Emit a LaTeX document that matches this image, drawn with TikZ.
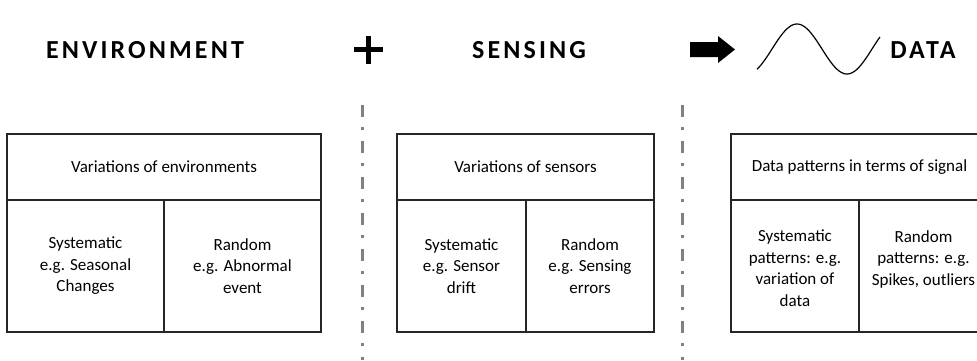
\documentclass[tikz,border=0pt]{standalone}
\usepackage{fontspec}
\setmainfont{Carlito}
\newfontfamily\headfont{Carlito}[LetterSpace=12]
\begin{document}
\begin{tikzpicture}[x=1pt,y=-1pt,
  cellbox/.style={draw=black!85, line width=1.1pt},
  celltext/.style={align=center, inner sep=0pt, font=\fontsize{17}{21.5}\selectfont},
  headtext/.style={anchor=base, inner sep=0pt, font=\headfont\bfseries\fontsize{26}{30}\selectfont},
  sepline/.style={draw=black!50, line width=3pt, dash pattern=on 12pt off 10pt on 2.5pt off 11.5pt}]
\useasboundingbox (0,0) rectangle (977,360);

% headline
\node[headtext] (env) at (145,58) {ENVIRONMENT};
\node[headtext] (sens) at (529,58) {SENSING};
\node[headtext] (data) at (923,58) {DATA};
% plus sign
\fill (366,36) rectangle (371,64);
\fill (354,47) rectangle (383,52);
% block arrow
\fill (690,42) -- (718,42) -- (718,36) -- (735,49.5) -- (718,63) -- (718,57) -- (690,57) -- cycle;
% signal wave
\draw[line width=1.2pt, domain=757:880, samples=80, smooth]
  plot (\x, {49-25*sin(3.6*(\x-772))});

% separators
\draw[sepline] (362,105) -- (362,360);
\draw[sepline] (682,105) -- (682,360);

% environment table
\draw[cellbox] (7,134) rectangle (321,332);
\draw[cellbox] (7,200) -- (321,200);
\draw[cellbox] (164,200) -- (164,332);
\node[celltext] (envtop) at (164,167) {Variations of environments};
\node[celltext] (envsys) at (85.5,266) {Systematic\\e.g. Seasonal\\Changes};
\node[celltext] (envrnd) at (242.5,266) {Random\\e.g. Abnormal\\event};

% sensing table
\draw[cellbox] (397,134) rectangle (654,332);
\draw[cellbox] (397,200) -- (654,200);
\draw[cellbox] (526,200) -- (526,332);
\node[celltext] (sentop) at (525.5,167) {Variations of sensors};
\node[celltext] (sensys) at (461.5,266) {Systematic\\e.g. Sensor\\drift};
\node[celltext] (senrnd) at (590,266) {Random\\e.g. Sensing\\errors};

% data table
\draw[cellbox] (731,134) rectangle (988,332);
\draw[cellbox] (731,200) -- (988,200);
\draw[cellbox] (859,200) -- (859,332);
\node[celltext] (dattop) at (859.5,167) {Data patterns in terms of signal};
\node[celltext, anchor=north] (datsys) at (795,230) {Systematic\\patterns: e.g.\\variation of\\data};
\node[celltext, anchor=north] (datrnd) at (923.5,230) {Random\\patterns: e.g.\\Spikes, outliers};
\end{tikzpicture}
\end{document}
